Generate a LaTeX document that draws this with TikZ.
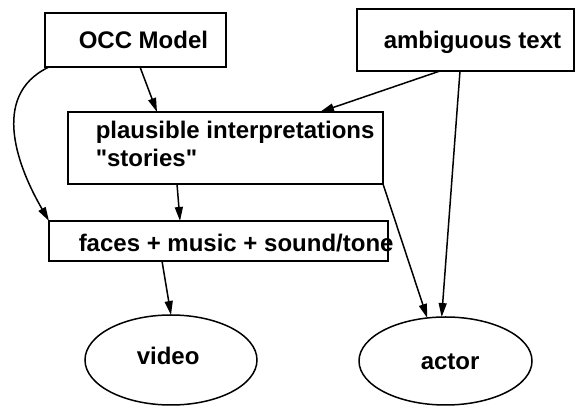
\documentclass[tikz,border=0pt]{standalone}
\usepackage{fontspec}
\setmainfont{Liberation Sans}
\usetikzlibrary{arrows.meta,shapes.geometric}

\begin{document}
\begin{tikzpicture}[x=1pt, y=1pt, line width=1.5pt,
  box/.style={draw, rectangle, inner sep=0, outer sep=0},
  oval/.style={draw, ellipse, inner sep=0, outer sep=0},
  txt/.style={anchor=base west, inner sep=0, font=\fontsize{24}{28}\selectfont\bfseries},
  arr/.style={-{Triangle[length=14pt,width=8pt]}}]

\useasboundingbox (0,0) rectangle (575,406);

\node[box, minimum width=181, minimum height=54] (occ) at (135.5,366) {};
\node[box, minimum width=217, minimum height=62] (amb) at (465.5,366) {};
\node[box, minimum width=315, minimum height=72] (plaus) at (225.5,258) {};
\node[box, minimum width=339, minimum height=40] (faces) at (218.5,165) {};
\node[oval, minimum width=172, minimum height=90] (video) at (171,46) {};
\node[oval, minimum width=173, minimum height=88] (actor) at (445.5,45) {};

\node[txt] (occtxt) at (78,357) {OCC Model};
\node[txt] (ambtxt) at (383,357) {ambiguous text};
\node[txt] (plaustxt) at (95,267) {plausible interpretations};
\node[txt] (storytxt) at (95,239) {\textquotedbl stories\textquotedbl};
\node[txt] (facestxt) at (78,154) {faces + music + sound/tone};
\node[txt] (videotxt) at (136,41) {video};
\node[txt] (actortxt) at (420,36) {actor};

\draw [arr] ([xshift=4.5pt]occ.south) -- ([xshift=89pt]plaus.north west);
\draw [arr] ([xshift=-25.5pt]amb.south) -- ([xshift=-63pt]plaus.north east);
\draw [arr] ([xshift=-5.5pt]amb.south) -- (actor.95);
\draw [arr] (plaus.south east) -- (actor.113);
\draw [arr] ([xshift=-48.5pt]plaus.south) -- ([xshift=-38.5pt]faces.north);
\draw [arr] ([xshift=4pt]occ.south west) .. controls (-12,310) and (20,235) .. (faces.north west);
\draw [arr] ([xshift=-56.5pt]faces.south) -- (video.north);

\end{tikzpicture}
\end{document}
